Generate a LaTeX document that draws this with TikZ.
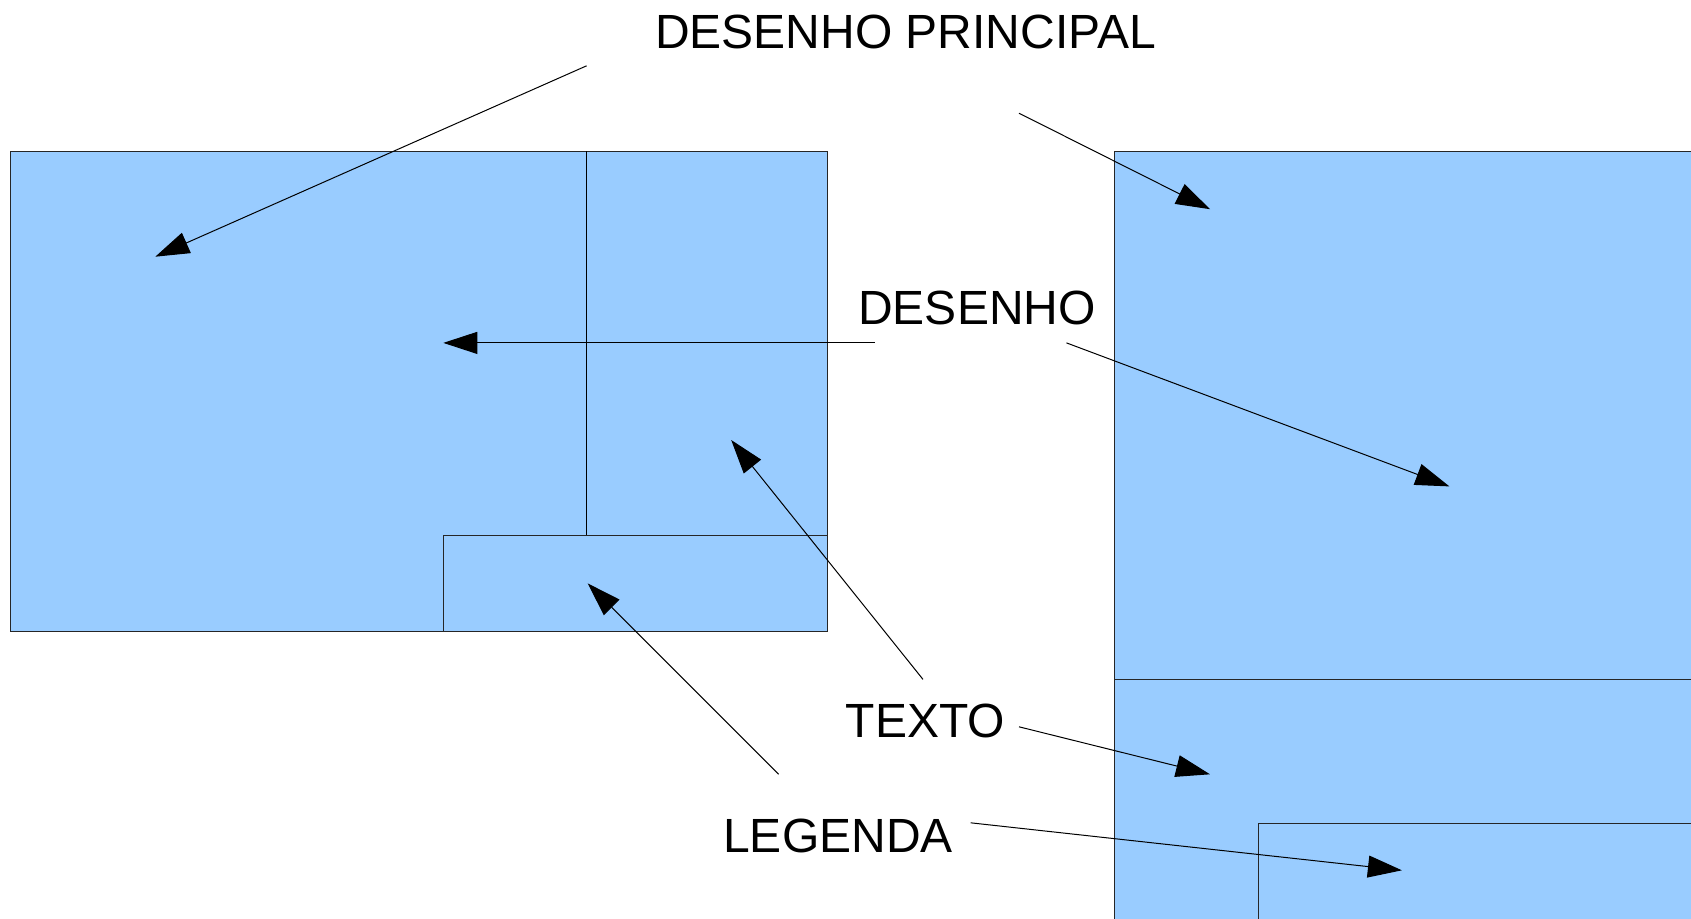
\documentclass[tikz,border=0pt]{standalone}
\usepackage{fontspec}
\setmainfont{Liberation Sans}
\usetikzlibrary{arrows.meta}
\definecolor{panelblue}{HTML}{99CCFF}

\begin{document}
\begin{tikzpicture}[x=1pt, y=-1pt, line width=1pt,
	panel/.style={draw=black!85, fill=panelblue},
	label/.style={anchor=base, inner sep=0pt, font=\fontsize{48}{58}\selectfont},
	pointer/.style={-{Triangle[length=34pt, width=22pt]}}]
	\useasboundingbox (0,0) rectangle (1691,918);
	\clip (0,0) rectangle (1691,918);
	\draw[panel] (10.8,151) rectangle (827,631);
	\draw[panel] (443,535) rectangle (827,631);
	\draw (586.7,151)--(586.7,535);
	\draw[panel] (1114,151) rectangle (1700,930);
	\draw[panel] (1114,679.4) rectangle (1700,930);
	\draw[panel] (1258.5,823) rectangle (1700,930);
	\node[label] (principal) at (905.5,48.2) {DESENHO PRINCIPAL};
	\node[label] (desenho) at (977,324) {DESENHO};
	\node[label] (texto) at (925.5,737.3) {TEXTO};
	\node[label] (legenda) at (838,852.3) {LEGENDA};
	\coordinate (P1) at (586.6,65.8);
	\coordinate (P2) at (1019,113.2);
	\coordinate (D1) at (874.6,342.9);
	\coordinate (D2) at (1066.5,342.9);
	\coordinate (T1) at (923,679.4);
	\coordinate (T2) at (1019,726.8);
	\coordinate (L1) at (778.6,774.3);
	\coordinate (L2) at (970.6,822.8);
	\coordinate (p1) at (155.3,256.7);
	\coordinate (p2) at (1210,209.2);
	\coordinate (d1) at (443.3,342.9);
	\coordinate (d2) at (1449.4,486.4);
	\coordinate (t1) at (731.2,440);
	\coordinate (t2) at (1210,774.3);
	\coordinate (l1) at (587.7,583.4);
	\coordinate (l2) at (1401.9,870.3);
	\draw[pointer] (P1)--(p1);
	\draw[pointer] (P2)--(p2);
	\draw[pointer] (D1)--(d1);
	\draw[pointer] (D2)--(d2);
	\draw[pointer] (T1)--(t1);
	\draw[pointer] (T2)--(t2);
	\draw[pointer] (L1)--(l1);
	\draw[pointer] (L2)--(l2);
\end{tikzpicture}
\end{document}
